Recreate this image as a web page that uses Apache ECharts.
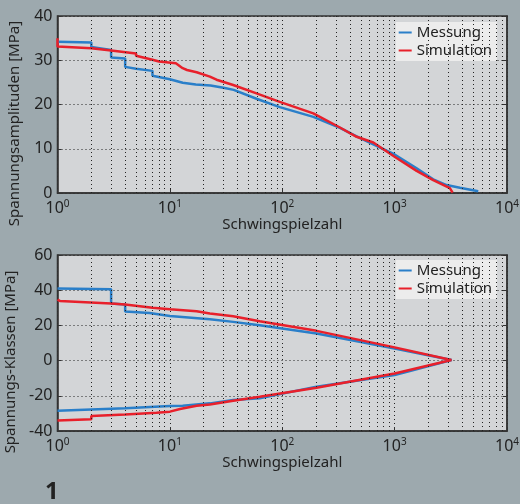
<!DOCTYPE html>
<html>
<head>
<meta charset="utf-8">
<script src="https://cdn.jsdelivr.net/npm/echarts@6/dist/echarts.min.js"></script>
<style>
  html, body { margin: 0; padding: 0; background: #9da9ae; }
  #chart { width: 520px; height: 504px; }
</style>
</head>
<body>
<div id="chart"></div>
<script>
// top panel: stress amplitudes vs cycle count
const ampMessung = [
  [1, 34.2], [2, 34.0], [2, 33.0], [3, 32.3], [3, 30.6], [4, 30.4], [4, 28.5],
  [5, 28.1], [7, 27.6], [7, 26.5], [10, 25.7], [13, 24.9], [17, 24.5], [23, 24.3],
  [30, 23.8], [37, 23.3], [59, 21.3], [95, 19.4], [189, 17.2], [326, 14.7],
  [459, 12.8], [646, 11.0], [1000, 8.7], [1570, 5.6], [2205, 3.1], [2900, 1.8],
  [3810, 1.2], [5550, 0.4]
];
const ampSimulation = [
  [1, 35.0], [1, 33.1], [2, 32.7], [3, 32.2], [5, 31.5], [5, 31.0], [7, 30.1],
  [8, 29.7], [11.3, 29.3], [13, 28.2], [14.2, 27.8], [17.3, 27.3], [22.7, 26.3],
  [26, 25.6], [36.6, 24.4], [59, 22.5], [95, 20.6], [189, 18.0], [326, 14.8],
  [459, 12.7], [646, 11.4], [1000, 8.2], [1570, 5.0], [2205, 2.9], [3100, 1.1],
  [3280, 0.1]
];

// bottom panel: stress classes (upper branch out, lower branch back)
const klassenMessung = [
  [1, 41.0], [3, 40.6], [3, 32.4], [4, 31.9], [4, 27.9], [6.6, 27.1], [10, 25.4],
  [22.7, 23.5], [36.6, 22.0], [63, 20.1], [202, 15.4], [1000, 6.9], [3215, 0.3],
  [3215, 0], [1000, -8.2], [202, -14.8], [63, -21.4], [36.6, -22.4], [22.7, -24.3],
  [13, -25.6], [10, -25.8], [4, -27.1], [1, -28.5]
];
const klassenSimulation = [
  [1, 34.6], [1.05, 33.9], [3, 32.4], [4, 31.9], [7, 30.0], [10, 29.2], [17.3, 28.1],
  [18, 27.2], [22.7, 26.8], [36.6, 25.2], [63, 22.4], [202, 16.9], [1000, 7.5],
  [3200, 0.3], [3200, 0], [1000, -7.3], [202, -15.4], [63, -20.5], [36.6, -22.8],
  [22.7, -24.9], [17.3, -25.6], [12.3, -27.5], [10, -29.0], [7.6, -29.6],
  [7.6, -30.0], [4, -30.6], [2, -31.5], [2, -33.3], [1, -34.1]
];

// minor log grid positions
const minorTicks = [2, 3, 4, 5, 6, 7, 8, 9, 20, 30, 40, 50, 60, 70, 80, 90,
  200, 300, 400, 500, 600, 700, 800, 900, 2000, 3000, 4000, 5000, 6000, 7000, 8000, 9000];

const FONT = '"Noto Sans", "Open Sans", sans-serif';
const TXT = '#222';
const BLUE = '#2a7fc9';
const RED = '#e8202b';
const dotted = { type: [1, 3], color: '#222', width: 1 };

function xAxisFor(gridIndex) {
  return {
    type: 'log', logBase: 10, min: 1, max: 10000, gridIndex: gridIndex,
    name: 'Schwingspielzahl', nameLocation: 'middle', nameGap: 21,
    nameTextStyle: { fontFamily: FONT, fontSize: 15, color: TXT, verticalAlign: 'top' },
    axisLine: { onZero: false, lineStyle: { color: '#333', width: 1.5 } },
    axisTick: { inside: true, length: 4, lineStyle: { color: '#333' } },
    axisLabel: {
      margin: 6,
      formatter: v => '{b|10}{s|' + Math.round(Math.log10(v)) + '}',
      rich: {
        b: { fontFamily: FONT, fontSize: 16, color: TXT, lineHeight: 18 },
        s: { fontFamily: FONT, fontSize: 10, color: TXT, verticalAlign: 'top', lineHeight: 18 }
      }
    },
    splitLine: { show: true, lineStyle: dotted }
  };
}

function yAxisFor(gridIndex, name, min, max, interval) {
  return {
    type: 'value', gridIndex: gridIndex, min: min, max: max, interval: interval,
    name: name, nameLocation: 'middle', nameGap: 35,
    nameTextStyle: { fontFamily: FONT, fontSize: 15, color: TXT, padding: [0, 38, 0, 0] },
    axisLine: { show: true, onZero: false, lineStyle: { color: '#333', width: 1.5 } },
    axisTick: { inside: true, length: 4, lineStyle: { color: '#333' } },
    axisLabel: { fontFamily: FONT, fontSize: 16, color: TXT, margin: 5 },
    splitLine: { show: true, lineStyle: dotted }
  };
}

function rightAxisFor(gridIndex, min, max, interval) {
  return {
    type: 'value', gridIndex: gridIndex, position: 'right', min: min, max: max, interval: interval,
    axisLine: { show: true, onZero: false, lineStyle: { color: '#333', width: 1.5 } },
    axisTick: { inside: true, length: 4, lineStyle: { color: '#333' } },
    axisLabel: { show: false },
    splitLine: { show: false }
  };
}

function gridLinesSeries(axisIdx) {
  return {
    type: 'line', xAxisIndex: axisIdx, yAxisIndex: axisIdx * 2, data: [], silent: true, z: 1,
    markLine: {
      silent: true, symbol: 'none', label: { show: false },
      lineStyle: dotted, emphasis: { disabled: true },
      data: minorTicks.map(v => ({ xAxis: v }))
    }
  };
}

function lineSeries(name, axisIdx, data, color) {
  return {
    name: name, type: 'line', xAxisIndex: axisIdx, yAxisIndex: axisIdx * 2,
    data: data, showSymbol: false, symbol: 'none', z: 3,
    lineStyle: { color: color, width: 2.5 }, itemStyle: { color: color }
  };
}

function legendAt(top) {
  return {
    orient: 'vertical', right: 23, top: top,
    backgroundColor: '#ececec', padding: [3, 5, 3, 3],
    itemWidth: 13, itemHeight: 2, itemGap: 3, icon: 'rect',
    textStyle: { fontFamily: FONT, fontSize: 15, color: TXT },
    data: ['Messung', 'Simulation']
  };
}

const chart = echarts.init(document.getElementById('chart'));
chart.setOption({
  animation: false,
  backgroundColor: '#9da9ae',
  grid: [
    { left: 57.5, top: 16, width: 449.5, height: 177, show: true, containLabel: false,
      outerBoundsMode: 'none',
      backgroundColor: '#d3d5d7', borderColor: '#333', borderWidth: 1.5 },
    { left: 57.5, top: 255, width: 449.5, height: 176, show: true, containLabel: false,
      outerBoundsMode: 'none',
      backgroundColor: '#d3d5d7', borderColor: '#333', borderWidth: 1.5 }
  ],
  xAxis: [xAxisFor(0), xAxisFor(1)],
  yAxis: [
    yAxisFor(0, 'Spannungsamplituden [MPa]', 0, 40, 10),
    rightAxisFor(0, 0, 40, 10),
    yAxisFor(1, 'Spannungs-Klassen [MPa]', -40, 60, 20),
    rightAxisFor(1, -40, 60, 20)
  ],
  legend: [legendAt(22), legendAt(260)],
  graphic: [{
    type: 'text', left: 45, top: 480,
    style: { text: '1', fontFamily: FONT, fontSize: 24, fontWeight: 'bold', fill: TXT }
  }],
  series: [
    gridLinesSeries(0),
    gridLinesSeries(1),
    lineSeries('Messung', 0, ampMessung, BLUE),
    lineSeries('Simulation', 0, ampSimulation, RED),
    lineSeries('Messung', 1, klassenMessung, BLUE),
    lineSeries('Simulation', 1, klassenSimulation, RED)
  ]
});
</script>
</body>
</html>
